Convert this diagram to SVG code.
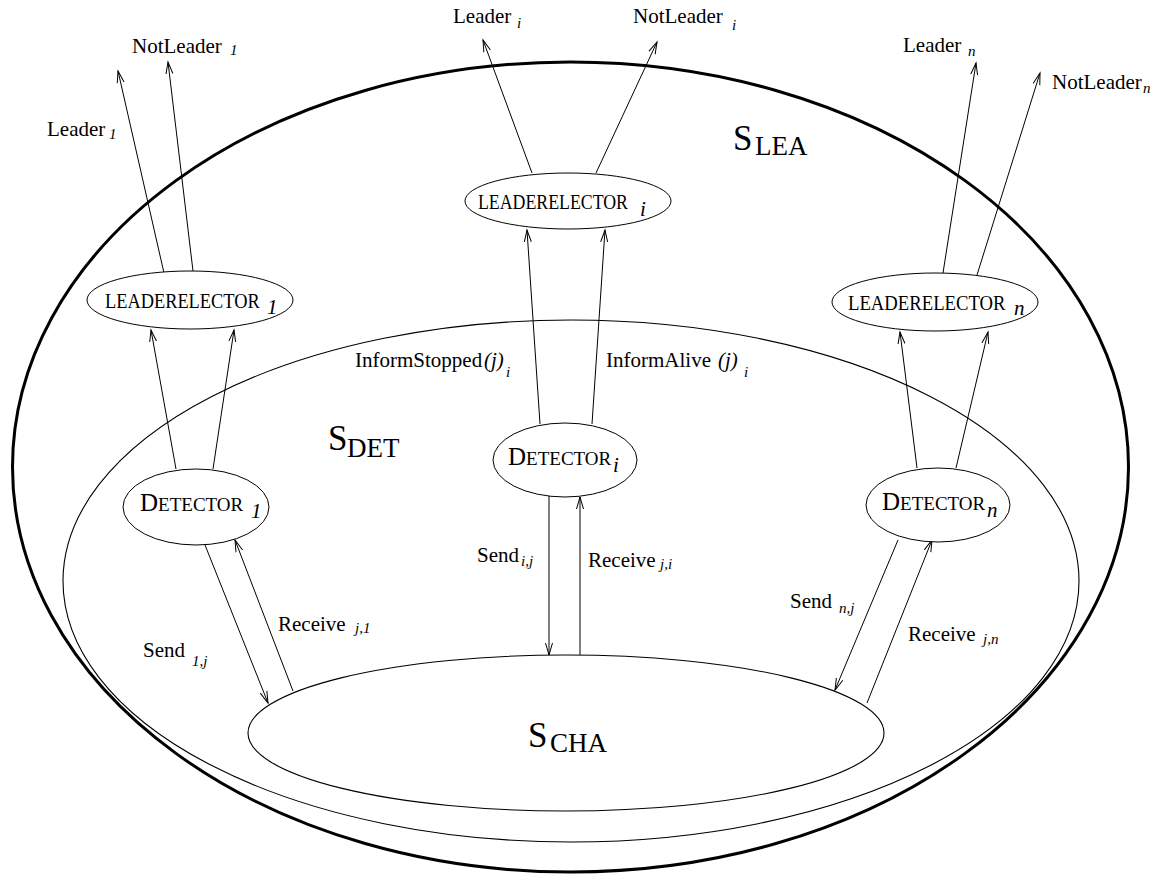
<svg xmlns="http://www.w3.org/2000/svg" width="1175" height="882" viewBox="0 0 1175 882">
<style>
.t{font-family:"Liberation Serif","Times New Roman",serif;font-size:21px;fill:#000}
.s{font-family:"Liberation Serif","Times New Roman",serif;font-size:15px;font-style:italic;fill:#000}
.ns{font-family:"Liberation Serif","Times New Roman",serif;font-size:21px;font-style:italic;fill:#000}
.big{font-family:"Liberation Serif","Times New Roman",serif;font-size:35px;fill:#000}
.bigsub{font-family:"Liberation Serif","Times New Roman",serif;font-size:27px;fill:#000}
.le{font-family:"Liberation Serif","Times New Roman",serif;font-size:22px;fill:#000}
.dD{font-family:"Liberation Serif","Times New Roman",serif;font-size:25px;fill:#000}
.dE{font-family:"Liberation Serif","Times New Roman",serif;font-size:19px;fill:#000}
.node{fill:#fff;stroke:#000;stroke-width:1}
.sys{fill:none;stroke:#000;stroke-width:1.1}
.edge{stroke:#000;stroke-width:1;fill:none;marker-end:url(#ah)}
</style>
<defs>
<marker id="ah" markerUnits="userSpaceOnUse" markerWidth="14" markerHeight="10" refX="12" refY="4" orient="auto" viewBox="0 0 14 8">
<path d="M0,0.5 L12,4 L0,7.5" fill="none" stroke="#000" stroke-width="1"/>
</marker>
</defs>
<rect width="1175" height="882" fill="#fff"/>
<g id="S_LEA">
<ellipse cx="570.5" cy="467" rx="558" ry="405" fill="none" stroke="#000" stroke-width="3"/>
<text x="733" y="150" class="big">S</text><text x="755" y="155" class="bigsub">LEA</text>
</g>
<g id="S_DET">
<ellipse cx="571" cy="581" rx="508" ry="261" class="sys"/>
<text x="328" y="450" class="big">S</text><text x="347" y="457" class="bigsub">DET</text>
</g>
<g id="S_CHA">
<ellipse cx="566" cy="733" rx="318" ry="78" class="sys"/>
<text x="528" y="747" class="big">S</text><text x="550" y="752" class="bigsub">CHA</text>
</g>
<g id="connectors">
<line x1="164" y1="273" x2="118" y2="71" class="edge"/>
<line x1="193" y1="271" x2="168" y2="62" class="edge"/>
<line x1="532" y1="173" x2="483" y2="40" class="edge"/>
<line x1="596" y1="173" x2="657" y2="42" class="edge"/>
<line x1="943" y1="273" x2="976" y2="63" class="edge"/>
<line x1="977" y1="275" x2="1040" y2="73" class="edge"/>
<line x1="176" y1="469" x2="151" y2="330" class="edge"/>
<line x1="213" y1="469" x2="234" y2="330" class="edge"/>
<line x1="540" y1="424" x2="527" y2="230" class="edge"/>
<line x1="592" y1="424" x2="605" y2="230" class="edge"/>
<line x1="917" y1="468" x2="900" y2="332" class="edge"/>
<line x1="956" y1="468" x2="988" y2="332" class="edge"/>
<line x1="549" y1="496" x2="549" y2="655" class="edge"/>
<line x1="580" y1="655" x2="580" y2="497" class="edge"/>
<line x1="205" y1="545" x2="268" y2="703" class="edge"/>
<line x1="293" y1="691" x2="235" y2="540" class="edge"/>
<line x1="898" y1="540" x2="835" y2="690" class="edge"/>
<line x1="867" y1="703" x2="932" y2="540" class="edge"/>
</g>
<g id="labels">
<text x="47" y="136" class="t">Leader</text><text x="109" y="139" class="s">1</text>
<text x="132" y="53" class="t">NotLeader</text><text x="230" y="55" class="s">1</text>
<text x="453" y="23" class="t">Leader</text><text x="517" y="28" class="s">i</text>
<text x="633" y="23" class="t">NotLeader</text><text x="732" y="30" class="s">i</text>
<text x="903" y="52" class="t">Leader</text><text x="968" y="56" class="s">n</text>
<text x="1052" y="89" class="t" font-size="19.5">NotLeader</text><text x="1143" y="93" class="s" font-size="17">n</text>
<text x="355" y="367" class="t">InformStopped</text><text x="484" y="367" class="t" font-style="italic">(j)</text><text x="506" y="377" class="s">i</text>
<text x="606" y="367" class="t">InformAlive</text><text x="718" y="367" class="t" font-style="italic">(j)</text><text x="744" y="377" class="s">i</text>
<text x="477" y="562" class="t">Send</text><text x="521" y="566" class="s">i,j</text>
<text x="588" y="567" class="t">Receive</text><text x="660" y="569" class="s">j,i</text>
<text x="143" y="657" class="t">Send</text><text x="192" y="666" class="s">1,j</text>
<text x="278" y="631" class="t">Receive</text><text x="355" y="633" class="s">j,1</text>
<text x="790" y="608" class="t">Send</text><text x="839" y="613" class="s">n,j</text>
<text x="908" y="641" class="t">Receive</text><text x="983" y="644" class="s">j,n</text>
</g>
<g id="LeaderElector_1">
<ellipse cx="190" cy="300" rx="103" ry="29" class="node"/>
<text transform="translate(105,308) scale(0.835,1)" class="le">LEADERELECTOR</text><text x="267" y="314" class="ns" font-size="19">1</text>
</g>
<g id="LeaderElector_i">
<ellipse cx="568" cy="201" rx="103" ry="28" class="node"/>
<text transform="translate(478,209) scale(0.81,1)" class="le">LEADERELECTOR</text><text x="640" y="216" class="ns">i</text>
</g>
<g id="LeaderElector_n">
<ellipse cx="935" cy="302" rx="103" ry="29" class="node"/>
<text transform="translate(848,310) scale(0.85,1)" class="le">LEADERELECTOR</text><text x="1014" y="315" class="ns">n</text>
</g>
<g id="Detector_1">
<ellipse cx="196" cy="507" rx="73" ry="38" class="node"/>
<text x="140" y="511"><tspan class="dD">D</tspan><tspan class="dE">ETECTOR</tspan></text><text x="251" y="518" class="ns" font-size="19">1</text>
</g>
<g id="Detector_i">
<ellipse cx="565" cy="460" rx="72" ry="37" class="node"/>
<text x="508" y="465"><tspan class="dD">D</tspan><tspan class="dE">ETECTOR</tspan></text><text x="613" y="472" class="ns">i</text>
</g>
<g id="Detector_n">
<ellipse cx="938" cy="505" rx="72" ry="37" class="node"/>
<text x="882" y="510"><tspan class="dD">D</tspan><tspan class="dE">ETECTOR</tspan></text><text x="987" y="517" class="ns">n</text>
</g>
</svg>
